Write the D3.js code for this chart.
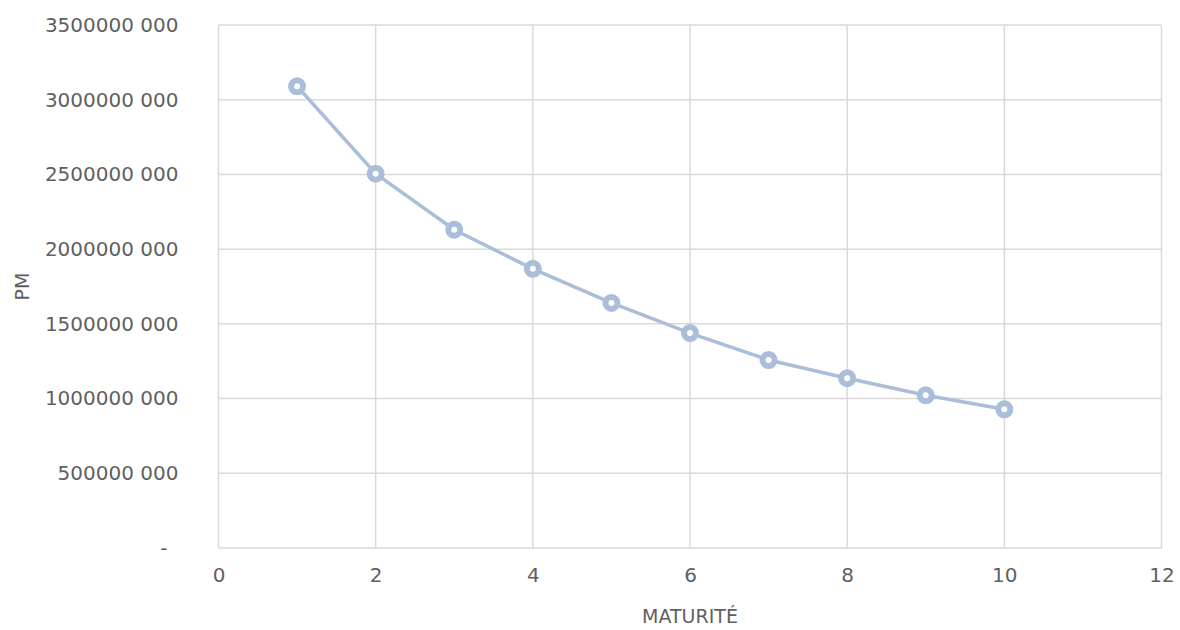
<!DOCTYPE html>
<html>
<head>
<meta charset="utf-8">
<script src="https://cdn.jsdelivr.net/npm/d3@7"></script>
<style>
  body { margin: 0; background: #fff; }
  svg text { font-family: "DejaVu Sans", sans-serif; fill: #5f5f5f; }
</style>
</head>
<body>
<svg id="chart"></svg>
<script>
// Data
const maturite = [1, 2, 3, 4, 5, 6, 7, 8, 9, 10];
const pm = [3090000000, 2505000000, 2130000000, 1868000000, 1640000000,
            1438000000, 1258000000, 1136000000, 1022000000, 928000000];
const xTicks = [0, 2, 4, 6, 8, 10, 12];
const yTicks = [0, 500000000, 1000000000, 1500000000, 2000000000, 2500000000, 3000000000, 3500000000];

const width = 1180, height = 630;
const margin = {top: 25, right: 18.5, bottom: 82, left: 218.5};
const color = "#aabdd9";

const svg = d3.select("#chart")
    .attr("width", width)
    .attr("height", height);

const x = d3.scaleLinear().domain([0, 12]).range([margin.left, width - margin.right]);
const y = d3.scaleLinear().domain([0, 3500000000]).range([height - margin.bottom, margin.top]);

// "3500000 000" style labels, zero shown as a dash
const fmtY = d => {
    if (d === 0) return "-";
    const hi = Math.floor(d / 1000), lo = d % 1000;
    return hi + " " + String(lo).padStart(3, "0");
};

// Gridlines
svg.append("g")
    .selectAll("line")
    .data(yTicks)
    .join("line")
    .attr("x1", x(0)).attr("x2", x(12))
    .attr("y1", d => y(d)).attr("y2", d => y(d))
    .attr("stroke", "#d9d9d9")
    .attr("stroke-width", 1.5);

svg.append("g")
    .selectAll("line")
    .data(xTicks)
    .join("line")
    .attr("y1", y(0)).attr("y2", y(3500000000))
    .attr("x1", d => x(d)).attr("x2", d => x(d))
    .attr("stroke", "#d9d9d9")
    .attr("stroke-width", 1.5);

// Axes (labels only)
const yAxis = svg.append("g")
    .attr("transform", `translate(${margin.left},0)`)
    .call(d3.axisLeft(y).tickValues(yTicks).tickFormat(fmtY).tickSize(0).tickPadding(40));
yAxis.select(".domain").remove();
yAxis.selectAll("text")
    .style("font-size", "20px")
    .attr("fill", "#5f5f5f")
    .attr("dx", d => d === 0 ? -11 : 0);

const xAxis = svg.append("g")
    .attr("transform", `translate(0,${height - margin.bottom})`)
    .call(d3.axisBottom(x).tickValues(xTicks).tickFormat(d3.format("d")).tickSize(0).tickPadding(20));
xAxis.select(".domain").remove();
xAxis.selectAll("text")
    .style("font-size", "20px")
    .attr("fill", "#5f5f5f");

// Axis titles
svg.append("text")
    .attr("x", (x(0) + x(12)) / 2)
    .attr("y", 617)
    .attr("text-anchor", "middle")
    .attr("dominant-baseline", "middle")
    .style("font-size", "19px")
    .text("MATURITÉ");

svg.append("text")
    .attr("transform", `translate(23,${(y(0) + y(3500000000)) / 2}) rotate(-90)`)
    .attr("text-anchor", "middle")
    .attr("dominant-baseline", "middle")
    .style("font-size", "19px")
    .text("PM");

// Line
const data = maturite.map((m, i) => ({m, v: pm[i]}));
svg.append("path")
    .datum(data)
    .attr("fill", "none")
    .attr("stroke", color)
    .attr("stroke-width", 3.5)
    .attr("d", d3.line().x(d => x(d.m)).y(d => y(d.v)));

// Markers
svg.append("g")
    .selectAll("circle")
    .data(data)
    .join("circle")
    .attr("cx", d => x(d.m))
    .attr("cy", d => y(d.v))
    .attr("r", 6)
    .attr("fill", "#fff")
    .attr("stroke", color)
    .attr("stroke-width", 6);
</script>
</body>
</html>
